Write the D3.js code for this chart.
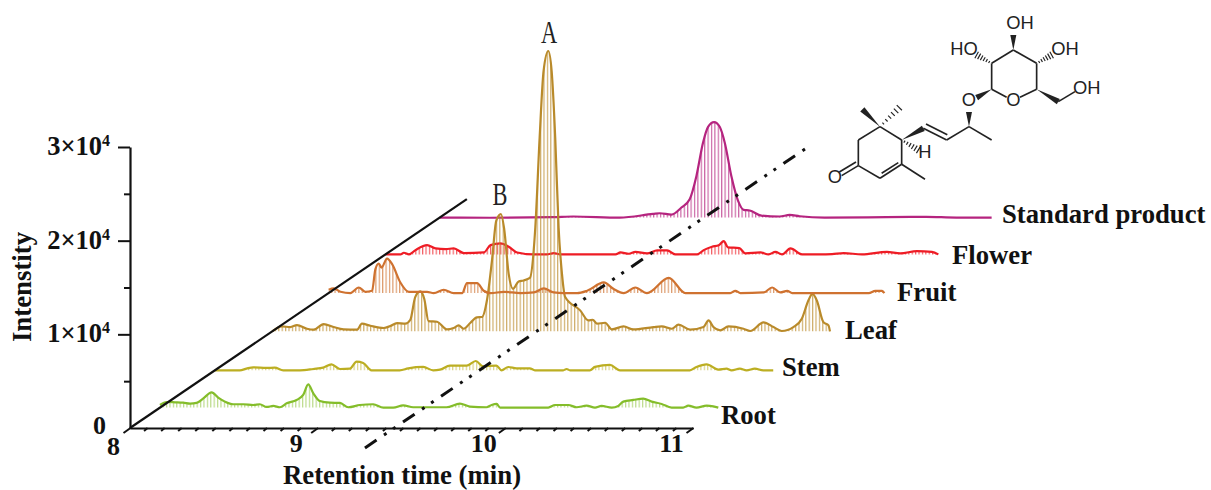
<!DOCTYPE html>
<html><head><meta charset="utf-8">
<script src="https://cdnjs.cloudflare.com/ajax/libs/d3/7.8.5/d3.min.js"></script>
<style>html,body{margin:0;padding:0;background:#fff}svg{display:block}
text{font-family:"Liberation Serif",serif;fill:#111}</style></head><body>
<svg id="c" width="1211" height="490"></svg>
<script>
const xMajorTicks=[8,9,10,11];
const yMajorTicks=[0,10000,20000,30000];
const yTickLabels=["0","1","2","3"];
const seriesNames=["Root","Stem","Leaf","Fruit","Flower","Standard product"];
const seriesColors=["#84bd2a","#bcae22","#b98a2a","#cf7230","#ee1c25","#b5247f"];
const seriesDepth=[0.089,0.252,0.422,0.589,0.758,0.919];

const root=[[8,280],[8.035,600],[8.08,570],[8.124,530],[8.16,430],[8.195,500],[8.231,990],[8.275,1630],[8.31,1070],[8.346,640],[8.39,360],[8.444,360],[8.497,280],[8.532,360],[8.568,70],[8.604,180],[8.639,40],[8.675,460],[8.728,820],[8.763,1350],[8.79,2490],[8.817,1530],[8.852,710],[8.905,530],[8.959,500],[9.003,40],[9.065,280],[9.136,360],[9.19,0],[9.243,0],[9.296,250],[9.349,40],[9.456,40],[9.527,40],[9.598,430],[9.651,110],[9.74,40],[9.767,280],[9.794,390],[9.812,0],[9.9,0],[10.069,0],[10.105,280],[10.176,280],[10.22,40],[10.273,210],[10.318,0],[10.353,180],[10.407,0],[10.442,180],[10.469,640],[10.522,820],[10.575,960],[10.62,640],[10.673,390],[10.726,0],[10.788,0],[10.815,210],[10.859,0],[10.913,210],[10.948,140],[10.975,0]];
const stem=[[8,0],[8.062,0],[8.133,0],[8.168,180],[8.204,320],[8.275,250],[8.319,280],[8.364,0],[8.453,0],[8.524,140],[8.577,280],[8.621,640],[8.666,140],[8.719,180],[8.755,920],[8.79,780],[8.834,0],[8.985,0],[9.03,210],[9.11,360],[9.163,0],[9.199,70],[9.252,500],[9.341,500],[9.39,990],[9.429,430],[9.5,500],[9.527,0],[9.563,350],[9.607,210],[9.678,210],[9.705,0],[9.856,0],[9.874,140],[9.892,0],[9.998,0],[10.025,360],[10.105,570],[10.158,0],[10.531,0],[10.566,360],[10.62,640],[10.682,70],[10.726,180],[10.753,0],[10.797,180],[10.833,0],[10.877,180],[10.922,0],[10.975,0]];
const leaf=[[8,0],[8.052,530],[8.096,460],[8.132,670],[8.185,280],[8.221,180],[8.274,780],[8.327,460],[8.38,210],[8.452,180],[8.478,820],[8.523,600],[8.594,360],[8.629,570],[8.665,890],[8.709,820],[8.736,1240],[8.762,3660],[8.789,4260],[8.81,3480],[8.833,1100],[8.878,1030],[8.931,210],[8.967,360],[8.993,640],[9.02,280],[9.055,890],[9.091,1500],[9.117,1530],[9.144,3300],[9.171,7560],[9.194,11820],[9.219,12530],[9.236,10930],[9.26,6140],[9.283,4540],[9.313,5330],[9.339,5430],[9.373,5700],[9.402,11110],[9.425,20700],[9.446,27800],[9.471,29930],[9.489,27800],[9.508,20700],[9.526,11110],[9.544,6140],[9.561,3660],[9.641,2240],[9.685,1170],[9.708,1240],[9.73,820],[9.774,920],[9.81,210],[9.872,530],[9.925,210],[10.032,460],[10.076,530],[10.129,280],[10.165,710],[10.227,180],[10.298,460],[10.325,1170],[10.351,460],[10.387,110],[10.431,530],[10.511,280],[10.547,40],[10.618,960],[10.671,460],[10.715,40],[10.777,460],[10.822,1350],[10.857,3300],[10.879,4010],[10.902,3300],[10.937,990],[10.964,640],[10.972,0]];
const fruit=[[8.001,350],[8.028,500],[8.064,140],[8.117,0],[8.161,600],[8.197,140],[8.232,250],[8.25,2560],[8.268,3160],[8.282,2730],[8.312,3690],[8.339,3090],[8.383,1140],[8.428,140],[8.525,140],[8.561,0],[8.614,360],[8.667,0],[8.712,0],[8.738,1070],[8.792,1070],[8.827,250],[8.863,0],[8.934,140],[9.023,0],[9.094,70],[9.147,500],[9.2,70],[9.253,0],[9.325,0],[9.378,250],[9.467,1140],[9.52,430],[9.573,0],[9.635,600],[9.697,0],[9.813,1630],[9.902,0],[10.141,0],[10.168,250],[10.195,0],[10.319,70],[10.364,600],[10.408,70],[10.444,250],[10.471,0],[10.879,0],[10.914,250],[10.95,250],[10.962,0]];
const flower=[[8,0],[8.08,0],[8.098,180],[8.125,0],[8.16,460],[8.222,990],[8.267,640],[8.32,570],[8.364,640],[8.418,140],[8.524,210],[8.56,990],[8.613,1170],[8.657,820],[8.702,210],[8.791,0],[8.86,0],[8.897,140],[8.933,0],[9.226,0],[9.252,210],[9.297,70],[9.332,280],[9.394,110],[9.448,430],[9.501,430],[9.545,0],[9.661,0],[9.696,460],[9.74,820],[9.776,990],[9.803,1420],[9.825,760],[9.885,680],[9.918,110],[9.998,210],[10.042,0],[10.078,280],[10.113,0],[10.158,640],[10.22,0],[10.317,0],[10.38,40],[10.442,140],[10.539,0],[10.672,280],[10.743,110],[10.832,360],[10.912,280],[10.946,0]];
const standard=[[8,0],[8.267,-20],[8.604,40],[8.711,110],[8.959,0],[9.137,390],[9.173,460],[9.235,320],[9.288,1070],[9.332,1950],[9.368,4440],[9.403,7990],[9.43,9690],[9.462,10190],[9.492,9690],[9.519,7990],[9.554,4440],[9.59,1780],[9.62,820],[9.652,750],[9.714,210],[9.811,110],[9.865,280],[9.918,140],[10.051,0],[10.38,40],[10.593,70],[10.753,0],[10.941,0]];
const allSeries=[root,stem,leaf,fruit,flower,standard];

const guideLine=[[9.252,-2130],[11.612,30000]];
const depthAxisEnd=[9.795,24440];

const svg=d3.select("#c");
const xS=d3.scaleLinear().domain([8,11]).range([130,693]);
const yS=d3.scaleLinear().domain([0,30000]).range([428,147]);
const zX=d3.scaleLinear().domain([0,1]).range([0,337]);
const zY=d3.scaleLinear().domain([0,1]).range([0,229]);

const defs=svg.append("defs");
seriesColors.forEach((c,i)=>{
  const p=defs.append("pattern").attr("id","h"+i).attr("patternUnits","userSpaceOnUse")
    .attr("width",3.4).attr("height",10);
  p.append("rect").attr("width",1.2).attr("height",10).attr("fill",c).attr("fill-opacity",i<2?0.55:0.7);
});

[4,5,2,3,1,0].forEach(i=>{
  const d=allSeries[i],dx=zX(seriesDepth[i]),dy=zY(seriesDepth[i]);
  const g=svg.append("g").attr("transform",`translate(${dx},${-dy})`);
  const area=d3.area().x(p=>xS(p[0])).y0(yS(0)).y1(p=>yS(Math.max(0,p[1]))).curve(d3.curveMonotoneX);
  const line=d3.line().x(p=>xS(p[0])).y(p=>yS(p[1])).curve(d3.curveMonotoneX);
  g.append("path").datum(d).attr("d",area).attr("fill",`url(#h${i})`);
  g.append("path").datum(d).attr("d",line).attr("fill","none").attr("stroke",seriesColors[i]).attr("stroke-width",2.2).attr("stroke-linejoin","round");
});

const xMinor=d3.range(0,34).map(i=>8+i/11);
const gx=svg.append("g").attr("transform",`translate(0,${yS(0)})`)
  .call(d3.axisBottom(xS).tickValues(xMinor).tickSize(0).tickSizeOuter(0).tickFormat(""));
gx.selectAll(".tick line").attr("x2",(d,i)=>i%11===0?-7:-3.5).attr("y2",(d,i)=>i%11===0?5:3).attr("stroke","#111").attr("stroke-width",2);
gx.select(".domain").attr("stroke","#111").attr("stroke-width",2.2);
const gxl=svg.append("g").attr("transform",`translate(0,${yS(0)})`)
  .call(d3.axisBottom(xS).tickValues(xMajorTicks).tickSize(0).tickFormat(d3.format("d")));
gxl.select(".domain").remove();
gxl.selectAll("text").attr("x",(d,i)=>i===0?-17:-22).attr("y",(d,i)=>i===0?9:6).attr("dy",0).attr("text-anchor","middle")
  .attr("dominant-baseline","hanging").style("font-family","Liberation Serif").style("font-size","26px").style("font-weight","bold");

const yMinor=d3.range(0,7).map(i=>i*5000);
const gy=svg.append("g").attr("transform",`translate(${xS(8)},0)`)
  .call(d3.axisLeft(yS).tickValues(yMinor).tickSize(0).tickSizeOuter(0).tickFormat(""));
gy.selectAll(".tick line").attr("x2",(d,i)=>i%2===0?-12:-6).attr("stroke","#111").attr("stroke-width",2);
gy.select(".domain").attr("stroke","#111").attr("stroke-width",2.2);
gy.selectAll(".tick").filter(d=>d===0).select("line").remove();

const yL=svg.append("g");
yMajorTicks.forEach((v,i)=>{
  if(i===0){
    yL.append("text").attr("x",106).attr("y",yS(v)+6).attr("text-anchor","end").style("font-size","26px").style("font-weight","bold").text(yTickLabels[i]);
    return;
  }
  const t=yL.append("text").attr("x",110).attr("y",yS(v)+8).attr("text-anchor","end").style("font-size","26.5px").style("font-weight","bold");
  t.append("tspan").text(yTickLabels[i]+"×10");
  t.append("tspan").attr("dy",-9).style("font-size","16px").text("4");
});

svg.append("line").attr("x1",xS(8)).attr("y1",yS(0)).attr("x2",xS(depthAxisEnd[0])).attr("y2",yS(depthAxisEnd[1]))
  .attr("stroke","#111").attr("stroke-width",2.2);
svg.append("path").datum(guideLine).attr("d",d3.line().x(p=>xS(p[0])).y(p=>yS(p[1])))
  .attr("fill","none").attr("stroke","#111").attr("stroke-width",3).attr("stroke-dasharray","14 9 3 8 3 9");

svg.append("text").attr("x",402).attr("y",484).attr("text-anchor","middle").style("font-size","26.8px").style("font-weight","bold").text("Retention time (min)");
svg.append("text").attr("transform","translate(31,287) rotate(-90)").attr("text-anchor","middle").style("font-size","26.8px").style("font-weight","bold").text("Intenstity");

const labelX=[721,782,845,897,952,1002], labelY=[424,376,339,301,264,223];
seriesNames.forEach((n,i)=>svg.append("text").attr("x",labelX[i]).attr("y",labelY[i]).style("font-size","26.7px").style("font-weight","bold").text(n));

[["A",549,43],["B",500,205]].forEach(a=>{
  svg.append("text").attr("transform",`translate(${a[1]},${a[2]}) scale(.7,1)`).attr("text-anchor","middle")
    .style("font-size","32px").style("fill","#222").text(a[0]);
});

const mol=svg.append("g").attr("transform","translate(820,0) scale(.3333)");
const bonds=[[115,497,115,420],[115,420,180,380],[180,380,245,420],[245,420,245,493],[245,493,180,535],[180,535,115,497],
[185,520,235,488],[115,497,65,527],[108,486,58,516],[245,493,315,538],[310,385,380,420],[318,372,382,404],[380,420,447,380],[447,380,515,420],
[515,268,560,292],[600,292,650,268],[650,268,650,190],[650,190,580,150],[580,150,515,190],[515,190,515,268],[715,305,765,275]];
mol.selectAll("line.b").data(bonds).join("line").attr("x1",d=>d[0]).attr("y1",d=>d[1]).attr("x2",d=>d[2]).attr("y2",d=>d[3])
  .attr("stroke","#222").attr("stroke-width",5);
const wedges=[[180,380,127,328],[245,420,310,385],[447,380,447,336],[515,268,470,293],[580,150,580,105],[650,268,715,305]];
mol.selectAll("path.w").data(wedges).join("path").attr("d",d=>{
  const a=Math.atan2(d[3]-d[1],d[2]-d[0]),n=9;
  return `M${d[0]},${d[1]}L${d[2]+n*Math.sin(a)},${d[3]-n*Math.cos(a)}L${d[2]-n*Math.sin(a)},${d[3]+n*Math.cos(a)}Z`;
}).attr("fill","#222");
const hashes=[[180,380,238,323],[245,420,295,450],[515,190,470,165],[650,190,695,165]];
hashes.forEach(h=>{
  const a=Math.atan2(h[3]-h[1],h[2]-h[0]);
  d3.range(1,7).forEach(k=>{
    const f=k/6,x=h[0]+(h[2]-h[0])*f,y=h[1]+(h[3]-h[1])*f,w=2+9*f;
    mol.append("line").attr("x1",x+w*Math.sin(a)).attr("y1",y-w*Math.cos(a)).attr("x2",x-w*Math.sin(a)).attr("y2",y+w*Math.cos(a)).attr("stroke","#222").attr("stroke-width",3.5);
  });
});
[["O",45,550],["H",315,474],["O",447,317],["O",580,318],["HO",432,164],["OH",600,87],["OH",735,164],["OH",800,281]].forEach(t=>{
  mol.append("text").attr("x",t[1]).attr("y",t[2]).attr("text-anchor","middle").style("font-family","Liberation Sans").style("font-size","55px").style("fill","#222").text(t[0]);
});
</script></body></html>
